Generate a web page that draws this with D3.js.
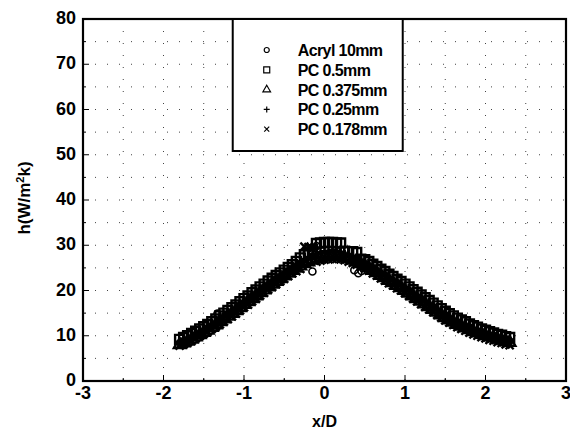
<!DOCTYPE html>
<html>
<head>
<meta charset="utf-8">
<script src="https://cdn.jsdelivr.net/npm/d3@7"></script>
<style>
  body { margin: 0; background: #fff; }
  text { font-family: "Liberation Sans", Arial, sans-serif; font-weight: bold; }
</style>
</head>
<body>
<div id="chart"></div>
<script>
// x/D positions shared by the PC series
var xD = [-1.8,-1.75,-1.7,-1.65,-1.6,-1.55,-1.5,-1.45,-1.4,-1.35,
          -1.3,-1.25,-1.2,-1.15,-1.1,-1.05,-1.0,-0.95,-0.9,-0.85,
          -0.8,-0.75,-0.7,-0.65,-0.6,-0.55,-0.5,-0.45,-0.4,-0.35,
          -0.3,-0.25,-0.2,-0.15,-0.1,-0.05,0.0,0.05,0.1,0.15,
          0.2,0.25,0.3,0.35,0.4,0.45,0.5,0.55,0.6,0.65,
          0.7,0.75,0.8,0.85,0.9,0.95,1.0,1.05,1.1,1.15,
          1.2,1.25,1.3,1.35,1.4,1.45,1.5,1.55,1.6,1.65,
          1.7,1.75,1.8,1.85,1.9,1.95,2.0,2.05,2.1,2.15,
          2.2,2.25,2.3];

var pc05   = [9.2,9.6,10.0,10.5,11.0,11.5,12.0,12.5,13.1,13.7,
              14.4,15.0,15.6,16.2,16.8,17.5,18.2,18.8,19.5,20.1,
              20.8,21.4,22.1,22.7,23.3,23.9,24.5,25.1,25.7,26.4,
              27.2,27.9,28.4,29.0,30.4,30.5,30.6,30.6,30.6,30.5,
              30.5,28.7,28.6,28.6,28.4,26.9,26.8,26.4,25.8,25.3,
              24.7,24.2,23.6,23.1,22.5,22.0,21.4,20.8,20.2,19.6,
              19.0,18.4,17.8,17.2,16.6,16.0,15.4,14.9,14.4,13.9,
              13.5,13.1,12.6,12.2,11.9,11.5,11.2,10.9,10.6,10.3,
              10.1,9.8,9.6];
var pc0375 = [8.0,8.4,8.8,9.2,9.7,10.2,10.7,11.2,11.8,12.4,
              13.1,13.7,14.3,14.9,15.5,16.2,16.9,17.5,18.2,18.8,
              19.5,20.1,20.8,21.4,22.0,22.6,23.2,23.8,24.4,24.9,
              25.4,25.9,26.3,26.7,27.0,27.2,27.4,27.5,27.6,27.6,
              27.5,27.3,27.0,26.7,26.3,25.9,25.5,25.0,24.4,23.9,
              23.3,22.8,22.2,21.7,21.1,20.6,20.0,19.4,18.8,18.2,
              17.6,17.0,16.4,15.8,15.2,14.6,14.0,13.5,13.0,12.5,
              12.1,11.7,11.3,10.9,10.6,10.3,10.0,9.7,9.5,9.2,
              9.0,8.7,8.5];
var pc025  = [8.7,9.1,9.5,9.9,10.4,10.9,11.4,11.9,12.5,13.1,
              13.8,14.4,15.0,15.6,16.2,16.9,17.6,18.2,18.9,19.5,
              20.2,20.8,21.5,22.1,22.7,23.3,23.9,24.5,25.1,25.6,
              26.1,26.6,27.0,27.5,28.2,28.5,28.7,28.8,28.9,28.8,
              28.5,28.0,27.7,27.4,27.0,26.6,26.2,25.7,25.1,24.6,
              24.0,23.5,22.9,22.4,21.8,21.3,20.7,20.1,19.5,18.9,
              18.3,17.7,17.1,16.5,15.9,15.3,14.7,14.2,13.7,13.2,
              12.8,12.4,12.0,11.6,11.3,11.0,10.7,10.4,10.2,9.9,
              9.7,9.4,9.2];
var pc0178 = [7.8,8.1,8.5,8.9,9.4,9.9,10.4,10.9,11.5,12.0,
              12.5,13.1,13.7,14.3,14.9,15.6,16.3,16.9,17.6,18.2,
              18.9,19.5,20.2,20.8,21.4,22.0,22.6,23.2,23.8,24.3,
              24.8,29.7,29.6,29.2,26.4,26.6,26.8,26.9,27.0,27.0,
              26.9,26.7,26.4,26.1,25.7,25.3,24.9,24.4,23.8,23.3,
              22.7,22.2,21.6,21.1,20.5,20.0,19.4,18.8,18.2,17.6,
              17.0,16.4,15.8,15.2,14.6,14.0,13.4,12.9,12.4,11.9,
              11.5,11.1,10.7,10.3,10.0,9.7,9.4,9.1,8.9,8.6,
              8.4,8.1,7.9];

// Acryl 10mm has its own, sparser positions
var acrylX = [-1.75,-1.6,-1.45,-1.33,-1.2,-1.05,-0.9,-0.75,-0.6,-0.45,
              -0.3,-0.15,-0.1,0.0,0.15,0.3,0.37,0.42,0.46,0.6,
              0.75,0.9,1.05,1.2,1.35,1.5,1.65,1.8,1.95,2.1,2.25];
var acrylH = [8.8,10.1,11.6,14.9,14.8,16.7,18.6,20.6,22.5,24.2,
              25.9,24.2,29.8,27.9,28.1,27.4,24.5,23.8,24.3,24.9,
              23.3,21.6,19.9,18.1,16.3,14.5,13.0,11.8,10.8,10.0,9.2];

var seriesNames = ["Acryl 10mm", "PC 0.5mm", "PC 0.375mm", "PC 0.25mm", "PC 0.178mm"];
var xTicks = [-3, -2, -1, 0, 1, 2, 3];
var yTicks = [0, 10, 20, 30, 40, 50, 60, 70, 80];

var margin = {top: 19, right: 4, bottom: 52, left: 83},
    width = 570 - margin.left - margin.right,
    height = 433 - margin.top - margin.bottom;

var svg = d3.select("#chart")
  .append("svg")
    .attr("width", 570)
    .attr("height", 433)
  .append("g")
    .attr("transform", "translate(" + margin.left + "," + margin.top + ")");

var x = d3.scaleLinear().domain([-3, 3]).range([0, width]);
var y = d3.scaleLinear().domain([0, 80]).range([height, 0]);

// dotted grid at the minor spacing
var xGrid = d3.range(-2.5, 3, 0.5), yGrid = d3.range(5, 80, 5);
svg.append("g").selectAll("line").data(xGrid).enter().append("line")
  .attr("x1", d => x(d)).attr("x2", d => x(d))
  .attr("y1", 0).attr("y2", height)
  .attr("stroke", "#444").attr("stroke-width", 1).attr("stroke-dasharray", "1,11");
svg.append("g").selectAll("line").data(yGrid).enter().append("line")
  .attr("x1", 0).attr("x2", width)
  .attr("y1", d => y(d)).attr("y2", d => y(d))
  .attr("stroke", "#444").attr("stroke-width", 1).attr("stroke-dasharray", "1,11");

// marker shapes: 0 circle, 1 square, 2 triangle, 3 plus, 4 cross
function marker(i, size) {
  var s = size / 2;
  if (i === 3) return "M" + (-s) + ",0H" + s + "M0," + (-s) + "V" + s;
  if (i === 4) {
    s = s - 0.5;
    return "M" + (-s) + "," + (-s) + "L" + s + "," + s + "M" + (-s) + "," + s + "L" + s + "," + (-s);
  }
  if (i === 1) return d3.symbol().type(d3.symbolSquare).size(size * size)();
  if (i === 2) return d3.symbol().type(d3.symbolTriangle).size(size * size * 0.7)();
  return d3.symbol().type(d3.symbolCircle).size(size * size * 0.6)();
}

var plotData = [
  {idx: 4, xs: xD, ys: pc0178},
  {idx: 3, xs: xD, ys: pc025},
  {idx: 2, xs: xD, ys: pc0375},
  {idx: 1, xs: xD, ys: pc05},
  {idx: 0, xs: acrylX, ys: acrylH}
];

plotData.forEach(function(s) {
  svg.append("g").selectAll("path")
    .data(s.xs.map((v, i) => [v, s.ys[i]]))
    .enter().append("path")
      .attr("transform", d => "translate(" + x(d[0]) + "," + y(d[1]) + ")")
      .attr("d", marker(s.idx, s.idx === 0 ? 8 : 9))
      .attr("fill", "none")
      .attr("stroke", "#000")
      .attr("stroke-width", s.idx === 0 ? 1.6 : 2.4);
});

// ticks pointing inward
svg.append("g").selectAll("line").data(d3.range(-2.5, 3, 0.5)).enter().append("line")
  .attr("x1", d => x(d)).attr("x2", d => x(d))
  .attr("y1", height).attr("y2", d => height - (d % 1 === 0 ? 6 : 3))
  .attr("stroke", "#000").attr("stroke-width", 1);
svg.append("g").selectAll("line").data(d3.range(5, 80, 5)).enter().append("line")
  .attr("x1", 0).attr("x2", d => (d % 10 === 0 ? 6 : 3))
  .attr("y1", d => y(d)).attr("y2", d => y(d))
  .attr("stroke", "#000").attr("stroke-width", 1);

// frame
svg.append("rect")
  .attr("x", 0).attr("y", 0).attr("width", width).attr("height", height)
  .attr("fill", "none").attr("stroke", "#000").attr("stroke-width", 2.2);

// tick labels
svg.append("g").selectAll("text").data(xTicks).enter().append("text")
  .attr("x", d => x(d)).attr("y", height + 18)
  .attr("text-anchor", "middle").attr("font-size", 18)
  .text(d => d);
svg.append("g").selectAll("text").data(yTicks).enter().append("text")
  .attr("x", -7).attr("y", d => y(d) + 5)
  .attr("text-anchor", "end").attr("font-size", 18)
  .text(d => d);

// axis titles
svg.append("text")
  .attr("x", x(0)).attr("y", height + 46)
  .attr("text-anchor", "middle").attr("font-size", 16)
  .text("x/D");
svg.append("text")
  .attr("transform", "translate(-53," + (height / 2 - 2) + ") rotate(-90)")
  .attr("text-anchor", "middle").attr("font-size", 17)
  .html('h(W/m<tspan baseline-shift="super" font-size="11">2</tspan>k)');

// legend
var lg = svg.append("g").attr("transform", "translate(" + x(-1.14) + ",0)");
lg.append("rect")
  .attr("x", 0).attr("y", 0).attr("width", 170).attr("height", 132)
  .attr("fill", "#fff").attr("stroke", "#000").attr("stroke-width", 2);
seriesNames.forEach(function(name, i) {
  var cy = 31 + i * 19.8;
  lg.append("path")
    .attr("transform", "translate(34," + cy + ")")
    .attr("d", i === 0 ? d3.symbol().type(d3.symbolCircle).size(20)() : marker(i, 6))
    .attr("fill", "none").attr("stroke", "#000").attr("stroke-width", 1.2);
  lg.append("text")
    .attr("x", 65).attr("y", cy + 6)
    .attr("font-size", 16).attr("letter-spacing", -0.6)
    .text(name);
});
</script>
</body>
</html>
